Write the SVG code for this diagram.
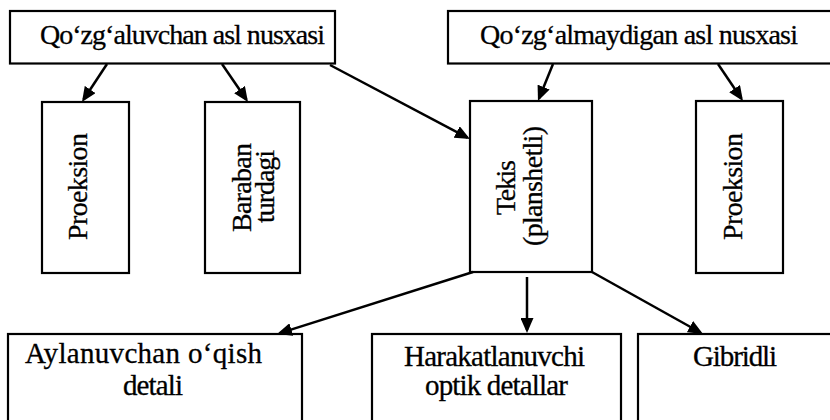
<svg xmlns="http://www.w3.org/2000/svg" width="830" height="420" viewBox="0 0 830 420">
<style>
.box{fill:#fff;stroke:#000;stroke-width:2.2}
.t{font-family:"Liberation Serif","Times New Roman",serif;font-size:28px;fill:#000;stroke:#000;stroke-width:0.3}
.b{font-size:29px}
.m{text-anchor:middle}
.c{stroke:#000;stroke-width:2.5;fill:none;marker-end:url(#ah)}
</style>
<defs>
<marker id="ah" markerUnits="userSpaceOnUse" markerWidth="15" markerHeight="13" refX="12" refY="6.5" orient="auto">
<path d="M0,0 L15,6.5 L0,13 z" fill="#000"/>
</marker>
</defs>
<rect width="830" height="420" fill="#fff"/>
<g id="n-qozgaluvchan">
<rect class="box" x="10" y="11" width="325" height="52.5"/>
<text class="t" x="40" y="44" textLength="285" lengthAdjust="spacing">Qo‘zg‘aluvchan asl nusxasi</text>
</g>
<g id="n-qozgalmaydigan">
<rect class="box" x="448" y="11" width="390" height="52.5"/>
<text class="t" x="480" y="44" textLength="318" lengthAdjust="spacing">Qo‘zg‘almaydigan asl nusxasi</text>
</g>
<g id="n-proeksion1">
<rect class="box" x="42" y="102" width="87" height="171"/>
<text class="t m" transform="translate(86.5,186.5) rotate(-90)" textLength="107" lengthAdjust="spacing">Proeksion</text>
</g>
<g id="n-baraban">
<rect class="box" x="205" y="102" width="95" height="171"/>
<text class="t m" transform="translate(250.5,187.5) rotate(-90)" textLength="89" lengthAdjust="spacing">Baraban</text>
<text class="t m" transform="translate(274,186.5) rotate(-90)" textLength="73" lengthAdjust="spacing">turdagi</text>
</g>
<g id="n-tekis">
<rect class="box" x="470" y="101" width="122" height="171"/>
<text class="t m" transform="translate(515,187.5) rotate(-90)" textLength="55" lengthAdjust="spacing">Tekis</text>
<text class="t m" transform="translate(542,186) rotate(-90)" textLength="120" lengthAdjust="spacing">(planshetli)</text>
</g>
<g id="n-proeksion2">
<rect class="box" x="696" y="101" width="87" height="172"/>
<text class="t m" transform="translate(742,186.5) rotate(-90)" textLength="107" lengthAdjust="spacing">Proeksion</text>
</g>
<g id="n-aylanuvchan">
<rect class="box" x="8" y="334" width="294" height="100"/>
<text class="t b" x="25" y="363" textLength="237" lengthAdjust="spacing">Aylanuvchan o‘qish</text>
<text class="t b" x="123" y="395" textLength="60" lengthAdjust="spacing">detali</text>
</g>
<g id="n-harakat">
<rect class="box" x="372" y="334" width="249" height="100"/>
<text class="t b" x="404" y="366" textLength="181" lengthAdjust="spacing">Harakatlanuvchi</text>
<text class="t b" x="425" y="395" textLength="143" lengthAdjust="spacing">optik detallar</text>
</g>
<g id="n-gibridli">
<rect class="box" x="638" y="334" width="210" height="100"/>
<text class="t b" x="693" y="366" textLength="84" lengthAdjust="spacing">Gibridli</text>
</g>
<g id="connectors">
<line class="c" x1="107" y1="64" x2="83.6" y2="99.5"/>
<line class="c" x1="222" y1="64" x2="246.3" y2="99.5"/>
<line class="c" x1="330" y1="65" x2="467.3" y2="137.6"/>
<line class="c" x1="553" y1="64" x2="539.1" y2="98.2"/>
<line class="c" x1="718" y1="64" x2="741.3" y2="98.5"/>
<line class="c" x1="473" y1="272" x2="279.9" y2="333.1"/>
<line class="c" x1="527" y1="277" x2="527" y2="330"/>
<line class="c" x1="592" y1="272" x2="700.4" y2="332.5"/>
</g>
</svg>
